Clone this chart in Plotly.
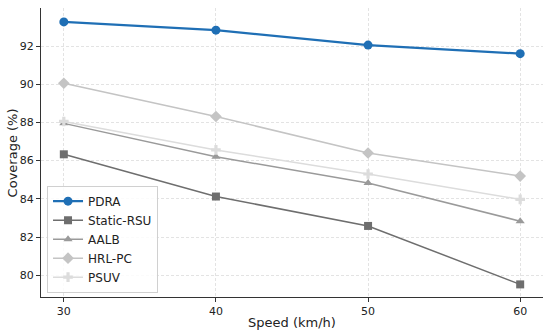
import plotly.graph_objects as go

speeds = [30, 40, 50, 60]
pdra = [93.26, 92.83, 92.05, 91.60]
static_rsu = [86.33, 84.12, 82.58, 79.52]
aalb = [87.95, 86.20, 84.83, 82.83]
hrl_pc = [90.05, 88.31, 86.40, 85.19]
psuv = [88.05, 86.56, 85.30, 83.97]
y_ticks = [80, 82, 84, 86, 88, 90, 92]
x_ticks = [30, 40, 50, 60]

series = [
    ("PDRA", pdra, "#1f6fb5", "circle", 9, 2.2),
    ("Static-RSU", static_rsu, "#6e6e6e", "square", 8, 1.5),
    ("AALB", aalb, "#9a9a9a", "triangle-up", 8, 1.5),
    ("HRL-PC", hrl_pc, "#c4c4c4", "diamond", 9, 1.5),
    ("PSUV", psuv, "#dcdcdc", "cross", 8, 1.5),
]

fig = go.Figure()
for name, vals, color, sym, ms, lw in series:
    fig.add_trace(go.Scatter(
        x=speeds, y=vals, name=name, mode="lines+markers",
        line=dict(color=color, width=lw),
        marker=dict(symbol=sym, size=ms, color=color, line=dict(width=0)),
    ))

font = "DejaVu Sans, sans-serif"
fig.update_layout(
    width=550, height=334,
    margin=dict(l=41, r=7, t=8, b=37),
    paper_bgcolor="white", plot_bgcolor="white",
    font=dict(family=font, size=11, color="#222"),
    showlegend=True,
    legend=dict(
        x=0.012, y=0.015, xanchor="left", yanchor="bottom",
        bgcolor="rgba(255,255,255,0.85)", bordercolor="#d0d0d0", borderwidth=1,
        font=dict(family=font, size=12, color="#222"),
        tracegroupgap=0, itemwidth=30,
    ),
    xaxis=dict(
        range=[28.5, 61.5], tickvals=x_ticks, ticktext=[str(v) for v in x_ticks],
        showline=True, linecolor="#333", linewidth=1.2, mirror=False,
        ticks="outside", ticklen=4, tickcolor="#333",
        showgrid=True, gridcolor="#e3e3e3", griddash="3px,2px", gridwidth=0.8,
        zeroline=False, automargin=False,
        tickfont=dict(family=font, size=11, color="#222"),
    ),
    yaxis=dict(
        range=[78.86, 93.99], tickvals=y_ticks, ticktext=[str(v) for v in y_ticks],
        showline=True, linecolor="#333", linewidth=1.2, mirror=False,
        ticks="outside", ticklen=4, tickcolor="#333",
        showgrid=True, gridcolor="#e3e3e3", griddash="3px,2px", gridwidth=0.8,
        zeroline=False, automargin=False,
        tickfont=dict(family=font, size=11, color="#222"),
    ),
    annotations=[
        dict(text="Speed (km/h)", x=0.5, y=-0.088, xref="paper", yref="paper",
             xanchor="center", yanchor="middle", showarrow=False,
             font=dict(family=font, size=13, color="#222")),
        dict(text="Coverage (%)", x=-0.056, y=0.5, xref="paper", yref="paper",
             xanchor="center", yanchor="middle", showarrow=False, textangle=-90,
             font=dict(family=font, size=13, color="#222")),
    ],
)

fig.write_html(
    "out.html",
    config={"displayModeBar": False},
    post_script="document.body.style.margin='0';document.body.style.overflow='hidden';",
)
